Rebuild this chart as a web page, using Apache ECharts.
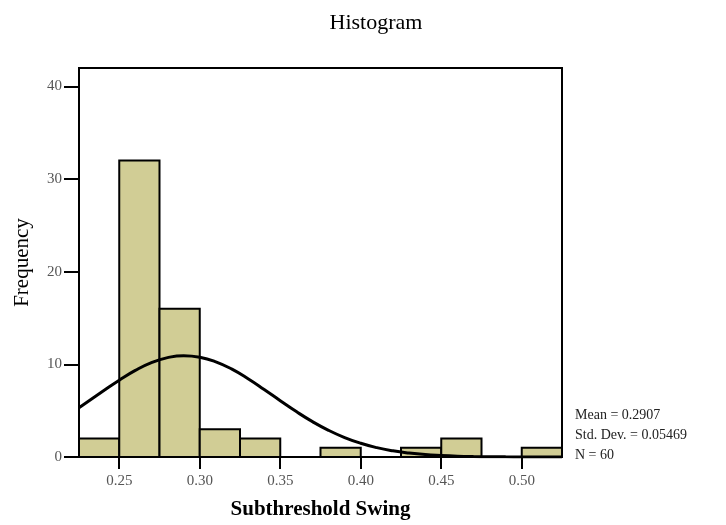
<!DOCTYPE html>
<html>
<head>
<meta charset="utf-8">
<script src="https://cdn.jsdelivr.net/npm/echarts@6/dist/echarts.min.js"></script>
<style>html,body{margin:0;padding:0;background:#fff}#c{width:726px;height:525px}</style>
</head>
<body>
<div id="c"></div>
<script>
// Histogram bins (Subthreshold Swing), bin width 0.025
const binStarts = [0.225, 0.25, 0.275, 0.30, 0.325, 0.35, 0.375, 0.40, 0.425, 0.45, 0.475, 0.50];
const binWidth = 0.025;
const counts = [2, 32, 16, 3, 2, 0, 1, 0, 1, 2, 0, 1];
// Normal curve
const curveX = [0.225, 0.24, 0.25, 0.26, 0.27, 0.28, 0.29, 0.30, 0.31, 0.32, 0.33, 0.34, 0.35, 0.36, 0.37, 0.38, 0.39, 0.40, 0.41, 0.42, 0.43, 0.44, 0.45, 0.46, 0.47, 0.48, 0.49, 0.50, 0.51, 0.525];
const curveY = [5.32, 7.12, 8.29, 9.35, 10.19, 10.73, 10.94, 10.78, 10.28, 9.48, 8.45, 7.29, 6.08, 4.90, 3.82, 2.88, 2.10, 1.48, 1.01, 0.67, 0.43, 0.26, 0.16, 0.09, 0.05, 0.03, 0.015, 0.007, 0.003, 0.001];
const xTicks = [0.25, 0.30, 0.35, 0.40, 0.45, 0.50];
const xTickLabels = ['0.25', '0.30', '0.35', '0.40', '0.45', '0.50'];
const yTicks = [0, 10, 20, 30, 40];
const statsLines = ['Mean = 0.2907', 'Std. Dev. = 0.05469', 'N = 60'];

const chart = echarts.init(document.getElementById('c'), null, {renderer: 'canvas'});
const serif = '"Liberation Serif", "DejaVu Serif", serif';
const histData = binStarts.map((s, i) => [s, s + binWidth, counts[i]]);
const curveData = curveX.map((x, i) => [x, curveY[i]]);

chart.setOption({
  animation: false,
  backgroundColor: '#fff',
  title: {
    text: 'Histogram',
    left: 371, top: 7, textAlign: 'center',
    textStyle: {fontFamily: serif, fontSize: 22, fontWeight: 'normal', color: '#000'}
  },
  grid: {left: 79, top: 68, right: 164, bottom: 67, show: true, borderColor: '#000', borderWidth: 2, backgroundColor: 'transparent'},
  xAxis: {
    type: 'value', min: 0.225, max: 0.525,
    name: 'Subthreshold Swing', nameLocation: 'middle', nameGap: 42,
    nameTextStyle: {fontFamily: serif, fontSize: 21, fontWeight: 'bold', color: '#000'},
    axisLine: {show: true, lineStyle: {color: '#000', width: 2}},
    axisTick: {show: true, length: 12, lineStyle: {color: '#000', width: 2}, customValues: xTicks},
    axisLabel: {customValues: xTicks, margin: 17, fontFamily: serif, fontSize: 15, color: '#555',
      formatter: v => xTickLabels[xTicks.findIndex(t => Math.abs(t - v) < 1e-9)] || ''},
    splitLine: {show: false}
  },
  yAxis: {
    type: 'value', min: 0, max: 42,
    name: 'Frequency', nameLocation: 'middle', nameGap: 46, nameRotate: 90,
    nameTextStyle: {fontFamily: serif, fontSize: 21, color: '#000'},
    axisLine: {show: true, lineStyle: {color: '#000', width: 2}},
    axisTick: {show: true, length: 15, lineStyle: {color: '#000', width: 2}, customValues: yTicks},
    axisLabel: {customValues: yTicks, margin: 17, fontFamily: serif, fontSize: 15, color: '#555'},
    splitLine: {show: false}
  },
  series: [
    {
      type: 'custom',
      data: histData,
      encode: {x: [0, 1], y: 2},
      renderItem: function (params, api) {
        if (api.value(2) <= 0) return null;
        const p0 = api.coord([api.value(0), 0]);
        const p1 = api.coord([api.value(1), api.value(2)]);
        return {
          type: 'rect',
          shape: {x: p0[0], y: p1[1], width: p1[0] - p0[0], height: p0[1] - p1[1]},
          style: {fill: '#d1cd95', stroke: '#000', lineWidth: 2}
        };
      },
      z: 2
    },
    {
      type: 'line',
      data: curveData,
      smooth: true,
      showSymbol: false,
      lineStyle: {color: '#000', width: 3},
      z: 3
    }
  ],
  graphic: statsLines.map((t, i) => ({
    type: 'text', left: 575, top: 408 + i * 20,
    style: {text: t, font: '14px ' + serif, fill: '#222'}
  }))
});
</script>
</body>
</html>
